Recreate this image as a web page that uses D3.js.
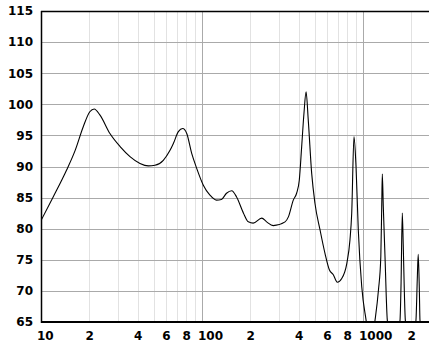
<!DOCTYPE html>
<html>
<head>
<meta charset="utf-8">
<script src="https://cdn.jsdelivr.net/npm/d3@7"></script>
<style>
  body { margin: 0; background: #fff; }
  svg { display: block; }
  text { font-family: "DejaVu Sans", Verdana, sans-serif; font-weight: bold; font-size: 12px; fill: #000; }
</style>
</head>
<body>
<svg id="chart" width="429" height="351"></svg>
<script>
// frequency (Hz) and level (dB)
const freq = [10, 11.9, 14.4, 16.3, 18.3, 20.1, 21.4, 23.2, 26.8, 31, 35.7, 41.2, 46.4, 51, 57.5, 63.3,
  66.4, 71.3, 75.9, 80.4, 86.3, 92.7, 101.9, 112, 123, 132, 142, 153, 164, 181, 194, 208, 235, 252, 277, 328,
  344, 369, 387, 402, 416, 430, 443, 457, 480, 503, 541, 581, 618, 654, 692, 738, 793, 830, 851, 879, 905, 935, 982, 1045,
  1110, 1188, 1247, 1290, 1307, 1318, 1337, 1370, 1416,
  1560, 1698, 1722, 1754, 1778, 1803, 1832,
  1980, 2133, 2174, 2203, 2239, 2259, 2570];
const level = [81.3, 85.1, 89.4, 92.6, 96.4, 98.8, 99.25, 98.3, 95.3, 93.2, 91.6, 90.5, 90.1, 90.2, 91.0, 92.6,
  93.7, 95.6, 96.1, 95.3, 92.1, 89.7, 87.0, 85.4, 84.6, 84.7, 85.7, 86.1, 85.1, 82.5, 81.1, 80.9, 81.7, 81.1, 80.5, 81.1,
  81.9, 84.6, 85.7, 87.8, 93.2, 98.6, 102.0, 97.5, 88.9, 84.1, 79.8, 76.0, 73.4, 72.6, 71.4, 72.0, 74.4, 78.2, 82.5, 94.8, 90.0, 79.8, 70.7, 65.3,
  61, 65.3, 70.1, 75.5, 83.5, 88.8, 83.5, 75.5, 65.3,
  60, 65.3, 70.7, 82.5, 77.4, 70.7, 65.3,
  60, 65.3, 72.0, 75.9, 70.1, 65.3, 58];
const yTicks = [65, 70, 75, 80, 85, 90, 95, 100, 105, 110, 115];
const xTicks = [10, 20, 40, 60, 80, 100, 200, 400, 600, 800, 1000, 2000];
const xTickLabels = ["10", "2", "4", "6", "8", "100", "2", "4", "6", "8", "1000", "2"];

const svg = d3.select("#chart");
const mLeft = 41, mTop = 11, mRight = 429, mBottom = 322;

const x = d3.scaleLog().domain([10, 2570]).range([mLeft, mRight]);
const y = d3.scaleLinear().domain([65, 115]).range([mBottom, mTop]);

// vertical grid: every 1..9 of each decade
const minor = [];
for (let dec = 10; dec <= 1000; dec *= 10) {
  for (let m = 1; m <= 9; m++) {
    const f = dec * m;
    if (f > 10 && f < 2570) minor.push(f);
  }
}
svg.append("g")
  .selectAll("line")
  .data(minor)
  .enter()
  .append("line")
  .attr("x1", d => Math.round(x(d)) + 0.5)
  .attr("x2", d => Math.round(x(d)) + 0.5)
  .attr("y1", mTop)
  .attr("y2", mBottom)
  .attr("stroke", d => (d === 100 || d === 1000) ? "#aaa" : "#e2e2e2")
  .attr("stroke-width", 1);

// horizontal grid
svg.append("g")
  .selectAll("line")
  .data(yTicks.filter(d => d > 65 && d < 115))
  .enter()
  .append("line")
  .attr("x1", mLeft)
  .attr("x2", mRight)
  .attr("y1", d => Math.round(y(d)) + 0.5)
  .attr("y2", d => Math.round(y(d)) + 0.5)
  .attr("stroke", "#aaa")
  .attr("stroke-width", 1);

// curve
svg.append("clipPath").attr("id", "clip")
  .append("rect").attr("x", mLeft).attr("y", mTop).attr("width", mRight - mLeft).attr("height", mBottom - mTop);

const pts = freq.map((f, i) => [f, level[i]]);
const line = d3.line()
  .x(d => x(d[0]))
  .y(d => y(d[1]))
  .curve(d3.curveMonotoneX);

svg.append("path")
  .datum(pts)
  .attr("clip-path", "url(#clip)")
  .attr("d", line)
  .attr("fill", "none")
  .attr("stroke", "#000")
  .attr("stroke-width", 1.1);

// frame: left, top, bottom
svg.append("line").attr("x1", mLeft).attr("x2", mRight).attr("y1", mTop + 0.5).attr("y2", mTop + 0.5)
  .attr("stroke", "#000").attr("stroke-width", 1.5);
svg.append("line").attr("x1", mLeft).attr("x2", mRight).attr("y1", mBottom).attr("y2", mBottom)
  .attr("stroke", "#000").attr("stroke-width", 2);
svg.append("line").attr("x1", mLeft + 0.5).attr("x2", mLeft + 0.5).attr("y1", mTop).attr("y2", mBottom + 1)
  .attr("stroke", "#000").attr("stroke-width", 1.5);

// y labels
svg.append("g")
  .selectAll("text")
  .data(yTicks)
  .enter()
  .append("text")
  .attr("x", 33)
  .attr("y", d => y(d))
  .attr("dy", "0.36em")
  .attr("text-anchor", "end")
  .text(d => d);

// x labels
svg.append("g")
  .selectAll("text")
  .data(xTicks)
  .enter()
  .append("text")
  .attr("x", d => x(d) - 4)
  .attr("y", 340)
  .attr("text-anchor", "start")
  .text((d, i) => xTickLabels[i]);
</script>
</body>
</html>
